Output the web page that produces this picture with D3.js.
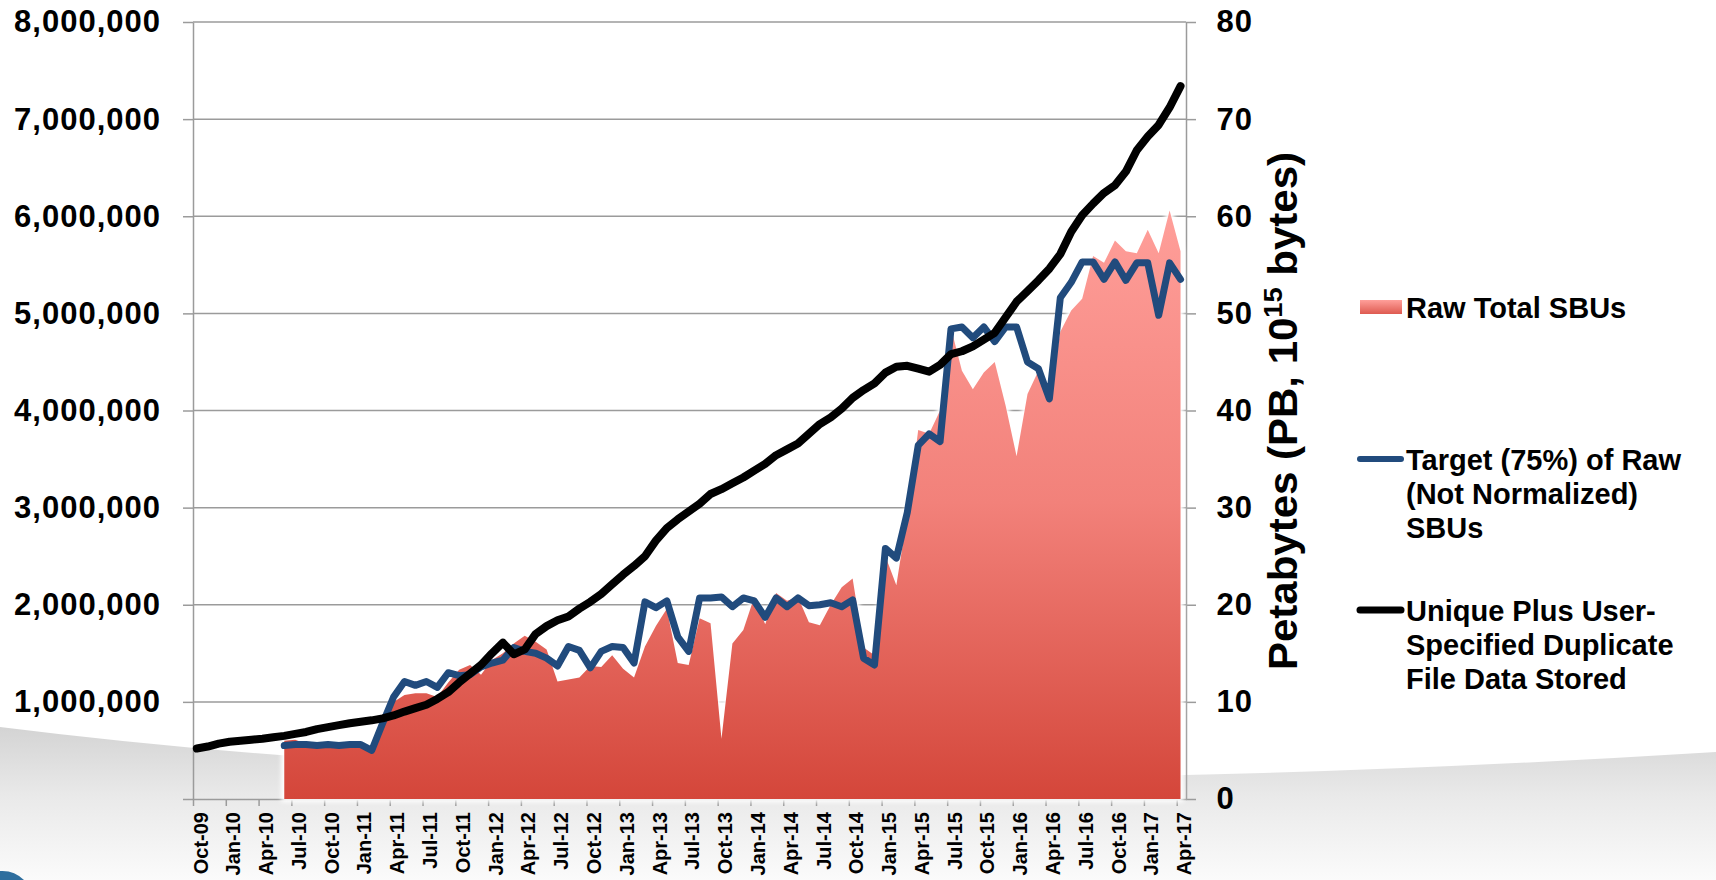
<!DOCTYPE html>
<html>
<head>
<meta charset="utf-8">
<script src="https://cdn.jsdelivr.net/npm/d3@7"></script>
<style>
  html, body { margin: 0; padding: 0; background: #fff; }
  svg { display: block; font-family: "Liberation Sans", Arial, sans-serif; font-weight: bold; }
</style>
</head>
<body>
<div class="chart-wrapper"></div>
<script>
// one tick label every 3 months, Oct-09 .. Apr-17 (data is monthly, 91 points)
const tickLabels = ["Oct-09","Jan-10","Apr-10","Jul-10","Oct-10","Jan-11","Apr-11","Jul-11",
  "Oct-11","Jan-12","Apr-12","Jul-12","Oct-12","Jan-13","Apr-13","Jul-13","Oct-13","Jan-14",
  "Apr-14","Jul-14","Oct-14","Jan-15","Apr-15","Jul-15","Oct-15","Jan-16","Apr-16","Jul-16",
  "Oct-16","Jan-17","Apr-17"];

// Raw Total SBUs, millions (left axis)
const rawSBUs = [null,null,null,null,null,null,null,null,
  0.60,0.61,0.57,0.56,0.57,0.56,0.56,0.56,0.53,0.72,1.00,1.07,
  1.09,1.09,1.05,1.20,1.33,1.38,1.28,1.43,1.50,1.60,1.68,1.62,
  1.54,1.21,1.23,1.25,1.37,1.36,1.48,1.34,1.25,1.57,1.78,1.96,
  1.40,1.38,1.86,1.81,0.62,1.60,1.74,2.08,1.80,2.12,2.04,2.08,
  1.82,1.79,2.00,2.18,2.27,1.56,1.48,2.50,2.20,2.92,3.80,3.76,
  4.00,4.85,4.41,4.22,4.39,4.50,4.05,3.53,4.17,4.41,4.12,4.81,
  5.03,5.15,5.59,5.52,5.75,5.64,5.62,5.86,5.62,6.06,5.64];

// Target (75%) of Raw (Not Normalized) SBUs, millions (left axis)
const targetSBUs = [null,null,null,null,null,null,null,null,
  0.55,0.56,0.56,0.55,0.56,0.55,0.56,0.56,0.50,0.78,1.05,1.21,
  1.17,1.21,1.15,1.30,1.27,1.28,1.36,1.40,1.43,1.56,1.52,1.50,
  1.45,1.37,1.57,1.53,1.35,1.52,1.57,1.56,1.40,2.03,1.97,2.04,
  1.67,1.52,2.07,2.07,2.08,1.98,2.07,2.04,1.87,2.07,1.98,2.07,
  1.99,2.00,2.02,1.98,2.05,1.45,1.38,2.58,2.48,2.95,3.64,3.76,
  3.68,4.84,4.86,4.75,4.86,4.71,4.86,4.86,4.50,4.43,4.12,5.16,
  5.32,5.53,5.53,5.35,5.53,5.34,5.52,5.52,4.98,5.52,5.35];

// Unique plus user-specified duplicate file data stored, PB (right axis)
const storedPB = [5.2,5.4,5.7,5.9,6.0,6.1,6.2,6.35,6.5,6.7,
  6.9,7.2,7.4,7.6,7.8,7.95,8.1,8.3,8.6,9.0,
  9.35,9.7,10.3,11.0,12.0,12.9,13.8,15.0,16.1,14.9,
  15.4,17.0,17.8,18.4,18.8,19.6,20.3,21.1,22.1,23.1,
  24.0,25.0,26.6,27.9,28.8,29.6,30.4,31.4,31.9,32.5,
  33.1,33.8,34.5,35.4,36.0,36.6,37.6,38.6,39.3,40.2,
  41.3,42.1,42.8,43.9,44.5,44.6,44.3,44.0,44.7,45.8,
  46.1,46.6,47.3,48.0,49.6,51.2,52.3,53.4,54.6,56.1,
  58.4,60.1,61.3,62.4,63.2,64.6,66.8,68.2,69.4,71.2,
  73.4];

const legendItems = [
  { type: "area", lines: ["Raw Total SBUs"] },
  { type: "blue", lines: ["Target (75%) of Raw", "(Not Normalized)", "SBUs"] },
  { type: "black", lines: ["Unique Plus User-", "Specified Duplicate", "File Data Stored"] }
];

const width = 1716, height = 880;
const shift = 0.35; // points sit a little right of their month tick

const svg = d3.select(".chart-wrapper").append("svg")
    .attr("width", width)
    .attr("height", height);

const defs = svg.append("defs");

const bgGrad = defs.append("linearGradient").attr("id", "bgGrad")
    .attr("gradientUnits", "userSpaceOnUse")
    .attr("x1", 0).attr("y1", 725).attr("x2", 0).attr("y2", 880);
bgGrad.append("stop").attr("offset", 0).attr("stop-color", "#d3d3d3");
bgGrad.append("stop").attr("offset", 0.45).attr("stop-color", "#e9e9e9");
bgGrad.append("stop").attr("offset", 1).attr("stop-color", "#fbfbfb");

const x = d3.scaleLinear().domain([0, 90.85]).range([193, 1186]);
const yLeft = d3.scaleLinear().domain([0, 8]).range([799, 22]);
const yRight = d3.scaleLinear().domain([0, 80]).range([799, 22]);

const rawGrad = defs.append("linearGradient").attr("id", "rawGrad")
    .attr("gradientUnits", "userSpaceOnUse")
    .attr("x1", 0).attr("y1", yLeft(6.1)).attr("x2", 0).attr("y2", yLeft(0));
rawGrad.append("stop").attr("offset", 0).attr("stop-color", "#ff9f9a");
rawGrad.append("stop").attr("offset", 0.5).attr("stop-color", "#f2817a");
rawGrad.append("stop").attr("offset", 1).attr("stop-color", "#d4463a");

const swatchGrad = defs.append("linearGradient").attr("id", "swatchGrad")
    .attr("x1", 0).attr("y1", 0).attr("x2", 0).attr("y2", 1);
swatchGrad.append("stop").attr("offset", 0).attr("stop-color", "#ff9f9a");
swatchGrad.append("stop").attr("offset", 1).attr("stop-color", "#de5a50");

defs.append("filter").attr("id", "glow")
    .attr("x", "-5%").attr("y", "-5%").attr("width", "110%").attr("height", "110%")
  .append("feGaussianBlur").attr("stdDeviation", 2.2);

// slide background swoosh
svg.append("path")
    .attr("d", "M0,727 Q700,815 1716,752 L1716,880 L0,880 Z")
    .attr("fill", "url(#bgGrad)");
svg.append("path")
    .attr("d", "M0,871 Q14,870 24,880 L0,880 Z")
    .attr("fill", "#2e6e9e");

const gridColor = "#9b9b9b";

// gridlines
svg.append("g")
    .selectAll("line")
    .data(d3.range(1, 9))
    .join("line")
    .attr("x1", x(0)).attr("x2", x.range()[1])
    .attr("y1", d => yLeft(d)).attr("y2", d => yLeft(d))
    .attr("stroke", gridColor)
    .attr("stroke-width", 1.5);

const fmt = d3.format(",");

const leftAxis = svg.append("g")
    .attr("transform", `translate(${x(0)},0)`)
    .call(d3.axisLeft(yLeft).ticks(8).tickSize(10).tickSizeOuter(0).tickPadding(22)
        .tickFormat(d => d === 0 ? "" : fmt(d * 1e6)));

const rightAxis = svg.append("g")
    .attr("transform", `translate(${x.range()[1]},0)`)
    .call(d3.axisRight(yRight).ticks(8).tickSize(10).tickSizeOuter(0).tickPadding(20.5));

const xAxis = svg.append("g")
    .attr("transform", `translate(0,${yLeft(0)})`)
    .call(d3.axisBottom(x).tickValues(d3.range(0, 91, 3)).tickSize(7).tickSizeOuter(0)
        .tickFormat((d, i) => tickLabels[i]));

[leftAxis, rightAxis, xAxis].forEach(g => {
    g.select(".domain").attr("stroke", gridColor).attr("stroke-width", 1.5);
    g.selectAll(".tick line").attr("stroke", gridColor).attr("stroke-width", 1.5);
    g.selectAll("text")
        .style("font-family", '"Liberation Sans", Arial, sans-serif')
        .style("font-weight", "bold")
        .attr("fill", "#000");
});

leftAxis.selectAll("text").style("font-size", "31px").style("letter-spacing", "1px");
rightAxis.selectAll("text").style("font-size", "31px").style("letter-spacing", "1px");

xAxis.selectAll("text")
    .style("font-size", "20px")
    .attr("transform", "rotate(-90)")
    .attr("x", -13)
    .attr("y", 7)
    .attr("dy", "0.35em")
    .attr("text-anchor", "end");

// series
const rawPts = rawSBUs.map((v, i) => ({ i, v }));
const targetPts = targetSBUs.map((v, i) => ({ i, v }));
const storedPts = storedPB.map((v, i) => ({ i, v }));

const area = d3.area()
    .defined(d => d.v != null)
    .x(d => x(d.i + shift))
    .y0(yLeft(0))
    .y1(d => yLeft(d.v));

svg.append("path")
    .datum(rawPts)
    .attr("d", area)
    .attr("fill", "#fff")
    .attr("stroke", "#fff")
    .attr("stroke-width", 6)
    .attr("filter", "url(#glow)");

svg.append("path")
    .datum(rawPts)
    .attr("d", area)
    .attr("fill", "url(#rawGrad)");

const leftLine = d3.line()
    .defined(d => d.v != null)
    .x(d => x(d.i + shift))
    .y(d => yLeft(d.v));

const rightLine = d3.line()
    .x(d => x(d.i + shift))
    .y(d => yRight(d.v));

svg.append("path")
    .datum(targetPts)
    .attr("d", leftLine)
    .attr("fill", "none")
    .attr("stroke", "#214b7d")
    .attr("stroke-width", 7)
    .attr("stroke-linejoin", "round")
    .attr("stroke-linecap", "round");

svg.append("path")
    .datum(storedPts)
    .attr("d", rightLine)
    .attr("fill", "none")
    .attr("stroke", "#000")
    .attr("stroke-width", 8)
    .attr("stroke-linejoin", "round")
    .attr("stroke-linecap", "round");

// right axis title
const title = svg.append("text")
    .attr("transform", "translate(1297,411) rotate(-90)")
    .attr("text-anchor", "middle")
    .attr("textLength", 518)
    .attr("lengthAdjust", "spacingAndGlyphs")
    .style("font-size", "40px");
title.append("tspan").text("Petabytes (PB, 10");
title.append("tspan").text("15").attr("dy", -15).style("font-size", "26px");
title.append("tspan").text(" bytes)").attr("dy", 15);

// legend
const legendY = [300, 452, 603];
const legend = svg.append("g").attr("class", "legend");

legendItems.forEach((item, k) => {
    const g = legend.append("g").attr("transform", `translate(0,${legendY[k]})`);
    if (item.type === "area") {
        g.append("rect")
            .attr("x", 1360).attr("y", 0)
            .attr("width", 42).attr("height", 14)
            .attr("fill", "url(#swatchGrad)");
    } else {
        g.append("line")
            .attr("x1", 1360).attr("x2", 1401)
            .attr("y1", 7).attr("y2", 7)
            .attr("stroke", item.type === "blue" ? "#214b7d" : "#000")
            .attr("stroke-width", item.type === "blue" ? 6 : 7)
            .attr("stroke-linecap", "round");
    }
    g.selectAll("text")
        .data(item.lines)
        .join("text")
        .attr("x", 1406)
        .attr("y", (d, j) => 18 + j * 34)
        .style("font-size", "29px")
        .attr("fill", "#000")
        .text(d => d);
});
</script>
</body>
</html>
